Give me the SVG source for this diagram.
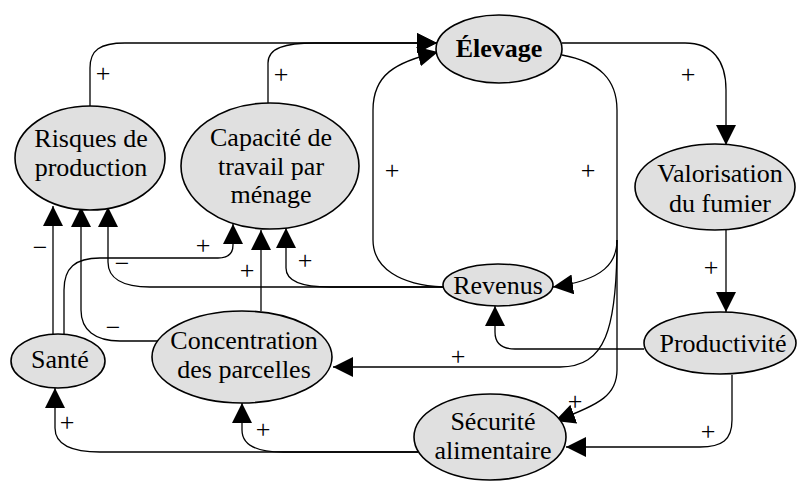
<svg xmlns="http://www.w3.org/2000/svg" width="797" height="482" viewBox="0 0 797 482">
  <defs>
    <marker id="head" markerUnits="userSpaceOnUse" markerWidth="20" markerHeight="20" refX="20" refY="10" orient="auto" viewBox="0 0 20 20">
      <path d="M0,0 L20,10 L0,20 z" fill="#000"/>
    </marker>
  </defs>

  <rect width="797" height="482" fill="#fff"/>

  <g id="connectors" fill="none" stroke="#000" stroke-width="1.3" marker-end="url(#head)">
    <!-- into Élevage -->
    <path d="M90,106 L90,68 C90,50 100,43 125,43 L437,43"/>
    <path d="M268,103 L268,63 C268,48 285,43 315,43 L437,43"/>
    <path d="M443,287 C400,285 373,268 373,240 L373,110 C373,75 395,62 438,52"/>
    <!-- out of Élevage -->
    <path d="M562,55 C600,62 617,80 617,110 L617,240 C617,262 605,280 553,287"/>
    <path d="M617,240 C617,330 605,367 560,367 L333,367"/>
    <path d="M617,240 L617,370 C617,394 602,404 555,421"/>
    <path d="M562,43 L685,43 C712,43 726,60 726,90 L726,145"/>
    <!-- Valorisation to Productivité -->
    <path d="M726,230 L726,312"/>
    <!-- out of Productivité -->
    <path d="M644,349 L515,349 C502,349 495,343 495,332 L495,306"/>
    <path d="M732,375 L732,420 C732,440 722,447 700,447 L566,447"/>
    <!-- out of Sécurité alimentaire -->
    <path d="M418,452 L283,452 C256,452 242,445 242,430 L242,403"/>
    <path d="M418,452 L100,452 C72,452 55,445 55,428 L55,388"/>
    <!-- out of Santé -->
    <path d="M53,334 L53,206"/>
    <path d="M64,335 L64,290 C64,268 75,258 100,258 L218,258 C228,258 233,254 233,245 L233,224"/>
    <!-- out of Concentration des parcelles -->
    <path d="M158,341 L120,341 C95,341 81,330 81,310 L81,207"/>
    <path d="M261,311 L261,230"/>
    <!-- out of Revenus -->
    <path d="M443,287 L150,287 C122,287 108,278 108,262 L108,207"/>
    <path d="M443,287 L330,287 C300,287 286,280 286,268 L286,228"/>
  </g>

  <!-- polarity signs -->
  <g id="signs" fill="#000" text-anchor="middle">
    <text x="103" y="82" font-family="Liberation Serif" font-size="26">+</text>
    <text x="281" y="83" font-family="Liberation Serif" font-size="26">+</text>
    <text x="392" y="179" font-family="Liberation Serif" font-size="26">+</text>
    <text x="588" y="179" font-family="Liberation Serif" font-size="26">+</text>
    <text x="688" y="83" font-family="Liberation Serif" font-size="26">+</text>
    <text x="711" y="276" font-family="Liberation Serif" font-size="26">+</text>
    <text x="458" y="365" font-family="Liberation Serif" font-size="26">+</text>
    <text x="575" y="410" font-family="Liberation Serif" font-size="26">+</text>
    <text x="708" y="440" font-family="Liberation Serif" font-size="26">+</text>
    <text x="263" y="438" font-family="Liberation Serif" font-size="26">+</text>
    <text x="67" y="431" font-family="Liberation Serif" font-size="26">+</text>
    <text x="40" y="256" font-family="Liberation Serif" font-size="26">−</text>
    <text x="203" y="254" font-family="Liberation Serif" font-size="26">+</text>
    <text x="113" y="336" font-family="Liberation Serif" font-size="26">−</text>
    <text x="122" y="272" font-family="Liberation Serif" font-size="26">−</text>
    <text x="305" y="269" font-family="Liberation Serif" font-size="26">+</text>
    <text x="247" y="279" font-family="Liberation Serif" font-size="26">+</text>
  </g>

  <g id="nodes" text-anchor="middle">
    <g id="elevage">
      <ellipse cx="499" cy="49" rx="63" ry="34" fill="#e0e0e0" stroke="#000" stroke-width="1.6"/>
      <text x="499" y="57" font-family="Liberation Serif" font-size="26" font-weight="bold">Élevage</text>
    </g>
    <g id="risques">
      <ellipse cx="90" cy="158" rx="75" ry="52" fill="#e0e0e0" stroke="#000" stroke-width="1.6"/>
      <text x="91" y="147" font-family="Liberation Serif" font-size="26">Risques de</text>
      <text x="91" y="176" font-family="Liberation Serif" font-size="26">production</text>
    </g>
    <g id="capacite">
      <ellipse cx="270" cy="166" rx="89" ry="63" fill="#e0e0e0" stroke="#000" stroke-width="1.6"/>
      <text x="271" y="146" font-family="Liberation Serif" font-size="26">Capacité de</text>
      <text x="271" y="175" font-family="Liberation Serif" font-size="26">travail par</text>
      <text x="271" y="203" font-family="Liberation Serif" font-size="26">ménage</text>
    </g>
    <g id="valorisation">
      <ellipse cx="715" cy="187" rx="80" ry="43" fill="#e0e0e0" stroke="#000" stroke-width="1.6"/>
      <text x="720" y="182" font-family="Liberation Serif" font-size="26">Valorisation</text>
      <text x="720" y="212" font-family="Liberation Serif" font-size="26">du fumier</text>
    </g>
    <g id="revenus">
      <ellipse cx="498" cy="285" rx="55" ry="21" fill="#e0e0e0" stroke="#000" stroke-width="1.6"/>
      <text x="498" y="294" font-family="Liberation Serif" font-size="26">Revenus</text>
    </g>
    <g id="productivite">
      <ellipse cx="720" cy="343" rx="76" ry="31" fill="#e0e0e0" stroke="#000" stroke-width="1.6"/>
      <text x="723" y="352" font-family="Liberation Serif" font-size="26">Productivité</text>
    </g>
    <g id="securite">
      <ellipse cx="490" cy="437" rx="76" ry="43" fill="#e0e0e0" stroke="#000" stroke-width="1.6"/>
      <text x="493" y="430" font-family="Liberation Serif" font-size="26">Sécurité</text>
      <text x="493" y="459" font-family="Liberation Serif" font-size="26">alimentaire</text>
    </g>
    <g id="concentration">
      <ellipse cx="242" cy="357" rx="90" ry="46" fill="#e0e0e0" stroke="#000" stroke-width="1.6"/>
      <text x="244" y="349" font-family="Liberation Serif" font-size="26">Concentration</text>
      <text x="244" y="378" font-family="Liberation Serif" font-size="26">des parcelles</text>
    </g>
    <g id="sante">
      <ellipse cx="58" cy="361" rx="47" ry="27" fill="#e0e0e0" stroke="#000" stroke-width="1.6"/>
      <text x="60" y="368" font-family="Liberation Serif" font-size="26">Santé</text>
    </g>
  </g>
</svg>
